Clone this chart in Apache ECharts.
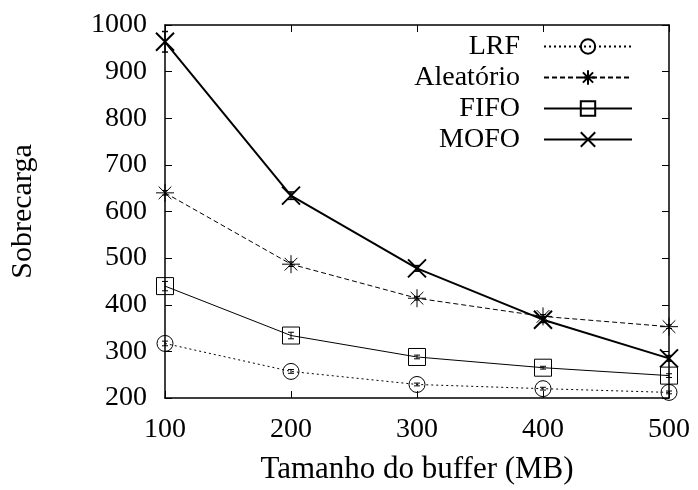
<!DOCTYPE html>
<html>
<head>
<meta charset="utf-8">
<script src="https://cdn.jsdelivr.net/npm/echarts@6/dist/echarts.min.js"></script>
<style>
  html, body { margin: 0; padding: 0; background: #fff; }
  #chart { width: 698px; height: 490px; }
</style>
</head>
<body>
<div id="chart"></div>
<script>
// Buffer sizes (MB)
const bufferSizes = [100, 200, 300, 400, 500];

// Overhead per policy
const lrf       = [317, 257, 229, 220, 212];
const aleatorio = [640, 487, 414, 375, 353];
const fifo      = [440, 334, 288, 265, 248];
const mofo      = [964, 634, 478, 368, 285];

// Half-width of the confidence intervals
const lrfErr       = [5, 4, 3, 3, 3];
const aleatorioErr = [5, 5, 4, 4, 4];
const fifoErr      = [10, 7, 4, 3, 4];
const mofoErr      = [22, 8, 6, 6, 6];

const yTicks = { min: 200, max: 1000, step: 100 };
const xTicks = { min: 100, max: 500, step: 100 };

const FONT = '"Liberation Serif", "DejaVu Serif", serif';
const FS = 28;
const NAME_FS = 31;

const ASTERISK = 'path://M10,0L10,20M0,10L20,10M2.93,2.93L17.07,17.07M17.07,2.93L2.93,17.07';
const CROSS = 'path://M0,0L20,20M20,0L0,20';

function pairs(ys) { return bufferSizes.map((x, i) => [x, ys[i]]); }

function errBars(name, ys, errs, width) {
  return {
    name: name,
    type: 'custom',
    silent: true,
    z: 3,
    data: bufferSizes.map((x, i) => [x, ys[i] - errs[i], ys[i] + errs[i]]),
    renderItem: function (params, api) {
      const lo = api.coord([api.value(0), api.value(1)]);
      const hi = api.coord([api.value(0), api.value(2)]);
      const c = 3;
      const style = { stroke: '#000', lineWidth: width };
      return {
        type: 'group',
        children: [
          { type: 'line', shape: { x1: lo[0], y1: lo[1], x2: hi[0], y2: hi[1] }, style: style },
          { type: 'line', shape: { x1: lo[0] - c, y1: lo[1], x2: lo[0] + c, y2: lo[1] }, style: style },
          { type: 'line', shape: { x1: hi[0] - c, y1: hi[1], x2: hi[0] + c, y2: hi[1] }, style: style }
        ]
      };
    }
  };
}

function lineSeries(name, ys, symbol, size, lineType, width) {
  return {
    name: name,
    type: 'line',
    data: pairs(ys),
    symbol: symbol,
    symbolSize: size,
    showAllSymbol: true,
    z: 4,
    lineStyle: { color: '#000', width: width, type: lineType },
    itemStyle: { color: 'rgba(0,0,0,0)', borderColor: '#000', borderWidth: width },
    emphasis: { disabled: true },
    animation: false
  };
}

const chart = echarts.init(document.getElementById('chart'), null, { renderer: 'canvas' });

const axisLine = { show: true, lineStyle: { color: '#000', width: 1.5 } };
const tickIn = { show: true, inside: true, length: 7, lineStyle: { color: '#000', width: 1 } };
const plain = v => String(v);

chart.setOption({
  backgroundColor: '#fff',
  animation: false,
  textStyle: { fontFamily: FONT },
  grid: { left: 163, right: 29, top: 25, bottom: 90, containLabel: false },
  legend: {
    right: 60,
    top: 27,
    orient: 'vertical',
    align: 'right',
    itemWidth: 88,
    itemHeight: 18,
    itemGap: 2,
    selectedMode: false,
    data: ['LRF', 'Aleatório', 'FIFO', 'MOFO'],
    textStyle: { fontFamily: FONT, fontSize: FS, lineHeight: 29, color: '#000', padding: [0, 19, 0, 0] }
  },
  xAxis: [
    {
      type: 'value', min: xTicks.min, max: xTicks.max, interval: xTicks.step,
      name: 'Tamanho do buffer (MB)', nameLocation: 'middle', nameGap: 56,
      nameTextStyle: { fontFamily: FONT, fontSize: NAME_FS, color: '#000' },
      axisLine: axisLine, axisTick: tickIn, splitLine: { show: false },
      axisLabel: { fontFamily: FONT, fontSize: FS, color: '#000', margin: 18, formatter: plain }
    },
    {
      type: 'value', position: 'top', min: xTicks.min, max: xTicks.max, interval: xTicks.step,
      axisLine: axisLine, axisTick: tickIn, splitLine: { show: false },
      axisLabel: { show: false }
    }
  ],
  yAxis: [
    {
      type: 'value', min: yTicks.min, max: yTicks.max, interval: yTicks.step,
      name: 'Sobrecarga', nameLocation: 'middle', nameGap: 127, nameRotate: 90,
      nameTextStyle: { fontFamily: FONT, fontSize: 30, color: '#000' },
      axisLine: axisLine, axisTick: tickIn, splitLine: { show: false },
      axisLabel: { fontFamily: FONT, fontSize: FS, color: '#000', margin: 18, formatter: plain }
    },
    {
      type: 'value', position: 'right', min: yTicks.min, max: yTicks.max, interval: yTicks.step,
      axisLine: axisLine, axisTick: tickIn, splitLine: { show: false },
      axisLabel: { show: false }
    }
  ],
  series: [
    lineSeries('LRF', lrf, 'circle', 16, [2, 3], 1),
    lineSeries('Aleatório', aleatorio, ASTERISK, 18, [5, 3], 1),
    lineSeries('FIFO', fifo, 'rect', 17, 'solid', 1),
    lineSeries('MOFO', mofo, CROSS, 18, 'solid', 2),
    errBars('LRF', lrf, lrfErr, 1),
    errBars('Aleatório', aleatorio, aleatorioErr, 1),
    errBars('FIFO', fifo, fifoErr, 1),
    errBars('MOFO', mofo, mofoErr, 1.5)
  ]
});
</script>
</body>
</html>
